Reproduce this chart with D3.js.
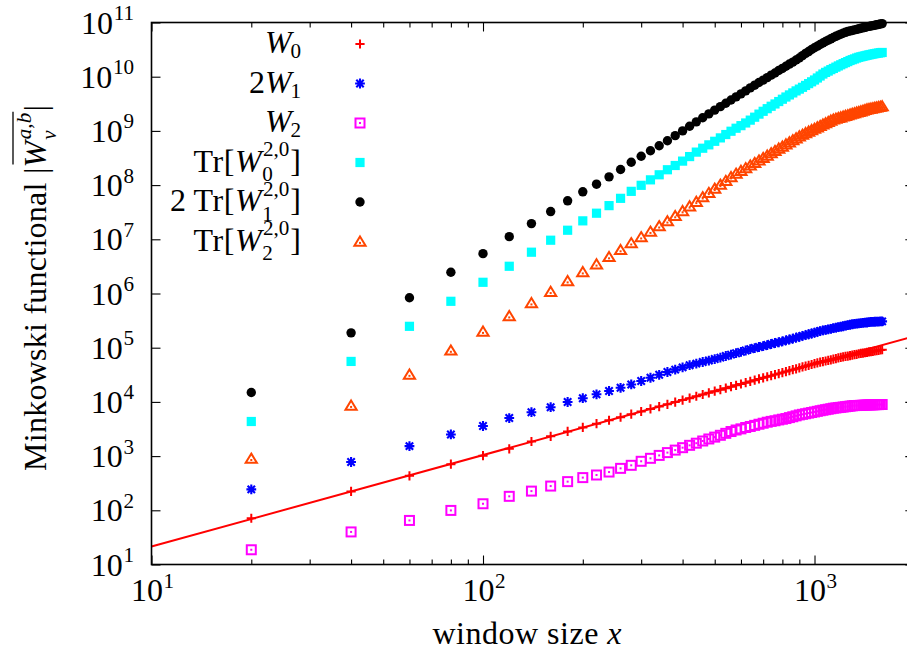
<!DOCTYPE html>
<html>
<head>
<meta charset="utf-8">
<script src="https://cdn.jsdelivr.net/npm/d3@7"></script>
<style>
  body { margin: 0; background: #fff; }
  svg { display: block; }
</style>
</head>
<body>
<svg id="chart" width="907" height="655"></svg>
<script>
// window sizes (x) shared by every series
const windowSize = [20, 40, 60, 80, 100, 120, 140, 160, 180, 200, 220, 240, 260, 280, 300, 320, 340, 360, 380, 400,
  420, 440, 460, 480, 500, 520, 540, 560, 580, 600, 620, 640, 660, 680, 700, 720, 740, 760, 780, 800,
  820, 840, 860, 880, 900, 920, 940, 960, 980, 1000, 1020, 1040, 1060, 1080, 1100, 1120, 1140, 1160, 1180, 1200,
  1220, 1240, 1260, 1280, 1300, 1320, 1340, 1360, 1380, 1400, 1420, 1440, 1460, 1480, 1500, 1520, 1540, 1560, 1580, 1600];

const valW0 = [71.4, 223, 432, 711, 1020, 1360, 1860, 2320, 2850, 3380, 3970, 4590, 5210, 5930,
  6650, 7410, 8200, 9040, 9930, 10800, 11700, 12700, 13700, 14700, 15800, 16800, 17900, 19100, 20200, 21400,
  22600, 23900, 25200, 26500, 27800, 29100, 30500, 31900, 33300, 34800, 36300, 37800, 39300, 40800, 42400,
  44100, 45600, 47300, 49000, 50700,
  52500, 54200, 55300, 56800, 58200, 59800, 61400, 62800, 64700, 66200, 67600, 68900, 70200, 71600, 73100,
  74500, 75500, 77300, 78500, 79600, 80700, 82000, 83400, 84500, 85900, 87100, 88300, 89300, 90800, 91600];

const val2W1 = [243, 778, 1530, 2510, 3590, 5040, 6460, 7980, 9950, 11700, 13800, 15900, 18200, 21000,
  24300, 27900, 31600, 35600, 39400, 43300, 47500, 50800, 54500, 57900, 61800, 65600, 70300, 74500, 79100, 83600,
  88700, 94200, 98600, 103000, 107000, 112000, 117000, 122000, 126000, 131000, 136000, 142000, 147000, 153000,
  159000, 165000, 171000, 177000, 183000, 189000,
  196000, 203000, 208000, 213000, 218000, 223000, 229000, 234000, 239000, 244000, 249000, 255000, 261000, 265000,
  271000, 274000, 278000, 281000, 284000, 287000, 290000, 292000, 296000, 299000, 300000, 301000, 303000, 303000,
  305000, 306000];

const valW2 = [18.7, 39.9, 65.0, 99.5, 132, 181, 226, 280, 338, 401, 448, 508, 594, 676,
  802, 910, 1030, 1160, 1290, 1430, 1580, 1730, 1900, 2070, 2240, 2420, 2630, 2840, 3030, 3180,
  3370, 3520, 3690, 3870, 4040, 4220, 4370, 4490, 4650, 4790, 4930, 5130, 5320, 5530, 5750,
  5900, 6050, 6210, 6370, 6530,
  6700, 6870, 7030, 7180, 7330, 7480, 7650, 7740, 7850, 7940, 8050, 8150, 8260, 8360, 8470,
  8550, 8570, 8610, 8650, 8690, 8730, 8770, 8810, 8830, 8830, 8870, 8910, 8910, 8950, 8950];

const valTrW0 = [4350, 55800, 2.48e5, 7.18e5, 1.61e6, 3.18e6, 5.78e6, 9.62e6, 1.47e7, 2.19e7, 3.03e7, 4.18e7,
  5.70e7, 7.67e7, 9.91e7, 1.25e8, 1.55e8, 1.92e8,
  2.30e8, 2.77e8, 3.36e8, 4.06e8, 4.79e8, 5.53e8, 6.43e8, 7.43e8, 8.57e8, 9.86e8, 1.12e9, 1.25e9, 1.40e9, 1.58e9,
  1.79e9, 2.04e9, 2.30e9, 2.57e9, 2.85e9, 3.14e9, 3.48e9, 3.84e9, 4.22e9, 4.61e9, 5.02e9, 5.47e9, 5.90e9, 6.37e9,
  6.90e9, 7.45e9, 8.05e9, 8.69e9,
  9.46e9, 1.03e10, 1.12e10, 1.20e10, 1.27e10, 1.35e10, 1.42e10, 1.50e10, 1.58e10, 1.66e10, 1.74e10, 1.82e10,
  1.90e10, 1.99e10, 2.06e10, 2.13e10, 2.21e10, 2.28e10, 2.33e10, 2.38e10, 2.43e10, 2.48e10, 2.53e10, 2.57e10,
  2.62e10, 2.66e10, 2.70e10, 2.73e10, 2.77e10, 2.80e10];

const val2TrW1 = [1.49e4, 1.88e5, 8.36e5, 2.47e6, 5.44e6, 1.12e7, 1.95e7, 3.25e7, 5.13e7, 7.52e7, 1.04e8, 1.42e8,
  1.94e8, 2.64e8, 3.40e8, 4.31e8, 5.32e8, 6.59e8,
  8.18e8, 1.00e9, 1.22e9, 1.47e9, 1.75e9, 2.06e9, 2.42e9, 2.80e9, 3.24e9, 3.71e9, 4.25e9, 4.83e9, 5.48e9, 6.21e9,
  6.97e9, 7.82e9, 8.65e9, 9.62e9, 1.07e10, 1.17e10, 1.30e10, 1.42e10, 1.56e10, 1.71e10, 1.86e10, 2.03e10, 2.21e10,
  2.45e10, 2.69e10, 2.91e10, 3.17e10, 3.42e10,
  3.66e10, 3.92e10, 4.18e10, 4.46e10, 4.73e10, 5.00e10, 5.28e10, 5.56e10, 5.82e10, 6.11e10, 6.34e10, 6.59e10,
  6.82e10, 6.97e10, 7.14e10, 7.30e10, 7.48e10, 7.65e10, 7.82e10, 7.98e10, 8.15e10, 8.34e10, 8.47e10, 8.61e10,
  8.77e10, 8.91e10, 9.06e10, 9.23e10, 9.38e10, 9.55e10];

const valTrW2 = [899, 8570, 32100, 89100, 1.99e5, 3.84e5, 6.67e5, 1.08e6, 1.70e6, 2.49e6, 3.47e6, 4.73e6,
  6.37e6, 8.51e6, 1.10e7, 1.39e7, 1.75e7, 2.16e7,
  2.70e7, 3.33e7, 4.07e7, 4.93e7, 6.00e7, 7.21e7, 8.61e7, 1.02e8, 1.20e8, 1.41e8, 1.63e8, 1.84e8, 2.06e8, 2.31e8,
  2.57e8, 2.86e8, 3.18e8, 3.51e8, 3.89e8, 4.29e8, 4.73e8, 5.16e8, 5.68e8, 6.18e8, 6.76e8, 7.33e8, 7.98e8, 8.55e8,
  9.14e8, 9.75e8, 1.04e9, 1.10e9,
  1.17e9, 1.24e9, 1.32e9, 1.39e9, 1.47e9, 1.56e9, 1.63e9, 1.69e9, 1.74e9, 1.79e9, 1.85e9, 1.90e9, 1.96e9, 2.02e9,
  2.08e9, 2.13e9, 2.20e9, 2.25e9, 2.31e9, 2.37e9, 2.44e9, 2.51e9, 2.55e9, 2.59e9, 2.64e9, 2.69e9, 2.72e9, 2.77e9,
  2.81e9, 2.86e9];

// power-law fit through W0, given by its two end points
const fitX = [10, 2000];
const fitY = [21.5, 1.63e5];

// axis ticks
const xMajorTicks = [10, 100, 1000];
const xMinorTicks = [20, 30, 40, 50, 60, 70, 80, 90, 200, 300, 400, 500, 600, 700, 800, 900, 2000];
const xTickExp = [1, 2, 3];
const yMajorTicks = [1e1, 1e2, 1e3, 1e4, 1e5, 1e6, 1e7, 1e8, 1e9, 1e10, 1e11];
const yTickExp = [1, 2, 3, 4, 5, 6, 7, 8, 9, 10, 11];

const FS = 32;               // base font size
const FONT = '"Liberation Serif", "DejaVu Serif", serif';
const svg = d3.select('#chart');

const plot = { left: 151.5, right: 914.3, top: 22.5, bottom: 564.5 };
const x = d3.scaleLog().domain([10, 2000]).range([plot.left, plot.right]);
const y = d3.scaleLog().domain([10, 1e11]).range([plot.bottom, plot.top]);

// --- rich text: one <text> element, one <tspan> per piece (italics, sub/superscripts) ---
function richText(parent, parts, fs) {
  const g = parent.append('g');
  const text = g.append('text')
    .attr('font-family', FONT).attr('font-size', fs).attr('fill', '#000')
    .style('white-space', 'pre');
  let cx = 0, supStart = 0;
  const boxes = [];
  parts.forEach(p => {
    const lvl = p.lvl || 'base';
    const size = lvl === 'base' ? fs : fs * 0.66;
    let dy = 0;
    if (lvl === 'sup') dy = -(p.low ? 0.42 : 0.48) * fs;
    if (lvl === 'sub') dy = (p.under ? 0.3 : 0.16) * fs;
    const x0 = p.under ? supStart + (p.dx || 0) * fs : cx + (p.dx || 0) * fs;
    const t = text.append('tspan')
      .attr('x', x0).attr('y', dy)
      .attr('font-size', size)
      .attr('font-style', p.it ? 'italic' : 'normal')
      .text(p.t);
    if (p.ls) t.attr('letter-spacing', p.ls);
    const w = t.node().getComputedTextLength();
    boxes.push({ x0, w, lvl });
    if (p.under) cx = Math.max(cx, x0 + w);
    else { if (lvl === 'sup') supStart = x0; cx = x0 + w; }
  });
  return { g, width: cx, boxes };
}

function powLabel(parent, exp) {
  return richText(parent, [{ t: '10' }, { t: String(exp), lvl: 'sup', low: true, dx: 0.02 }], FS);
}

// --- series ---
const series = [
  { key: 'W0', values: valW0, color: '#ff0000', shape: 'plus',
    label: [{ t: 'W', it: true }, { t: '0', lvl: 'sub', dx: -0.04 }] },
  { key: '2W1', values: val2W1, color: '#0000ff', shape: 'star',
    label: [{ t: '2' }, { t: 'W', it: true }, { t: '1', lvl: 'sub', dx: -0.04 }] },
  { key: 'W2', values: valW2, color: '#ff00ff', shape: 'boxdot',
    label: [{ t: 'W', it: true }, { t: '2', lvl: 'sub', dx: -0.04 }] },
  { key: 'TrW0', values: valTrW0, color: '#00ffff', shape: 'square',
    label: [{ t: 'Tr[', ls: 0.6 }, { t: 'W', it: true }, { t: '2,0', lvl: 'sup', dx: 0.04 }, { t: '0', lvl: 'sub', under: true, dx: -0.02 }, { t: ']', dx: 0.03 }] },
  { key: '2TrW1', values: val2TrW1, color: '#000000', shape: 'circle',
    label: [{ t: '2\u2009Tr[', ls: 0.6 }, { t: 'W', it: true }, { t: '2,0', lvl: 'sup', dx: 0.04 }, { t: '1', lvl: 'sub', under: true, dx: -0.02 }, { t: ']', dx: 0.03 }] },
  { key: 'TrW2', values: valTrW2, color: '#ff4500', shape: 'tridot',
    label: [{ t: 'Tr[', ls: 0.6 }, { t: 'W', it: true }, { t: '2,0', lvl: 'sup', dx: 0.04 }, { t: '2', lvl: 'sub', under: true, dx: -0.02 }, { t: ']', dx: 0.03 }] }
];

function drawMarker(sel, shape, color) {
  switch (shape) {
    case 'plus':
      sel.append('path').attr('d', 'M-4.6,0H4.6M0,-4.6V4.6')
        .attr('stroke', color).attr('stroke-width', 2).attr('fill', 'none');
      break;
    case 'star':
      sel.append('path').attr('d', 'M-4.9,0H4.9M0,-4.9V4.9M-3.7,-3.7L3.7,3.7M-3.7,3.7L3.7,-3.7')
        .attr('stroke', color).attr('stroke-width', 2.1).attr('fill', 'none');
      break;
    case 'boxdot':
      sel.append('rect').attr('x', -4.5).attr('y', -4.5).attr('width', 9).attr('height', 9)
        .attr('stroke', color).attr('stroke-width', 2).attr('fill', 'none');
      sel.append('rect').attr('x', -1).attr('y', -1).attr('width', 2).attr('height', 2).attr('fill', color);
      break;
    case 'square':
      sel.append('rect').attr('x', -4.6).attr('y', -4.6).attr('width', 9.2).attr('height', 9.2).attr('fill', color);
      break;
    case 'circle':
      sel.append('circle').attr('r', 4.7).attr('fill', color);
      break;
    case 'tridot':
      sel.append('path').attr('d', 'M0,-5L5.6,4.2H-5.6Z')
        .attr('stroke', color).attr('stroke-width', 2).attr('fill', 'none');
      sel.append('rect').attr('x', -1).attr('y', 0.4).attr('width', 2).attr('height', 2).attr('fill', color);
      break;
  }
}

const pointsLayer = svg.append('g');
series.forEach(s => {
  const g = pointsLayer.append('g');
  const pts = g.selectAll('g').data(windowSize.map((w, i) => ({ x: w, y: s.values[i] })))
    .join('g').attr('transform', d => `translate(${x(d.x)},${y(d.y)})`);
  drawMarker(pts, s.shape, s.color);
});

// fit line
svg.append('path')
  .datum(fitX.map((v, i) => [v, fitY[i]]))
  .attr('d', d3.line().x(d => x(d[0])).y(d => y(d[1])))
  .attr('stroke', '#ff0000').attr('stroke-width', 2).attr('fill', 'none');

// --- frame and ticks ---
const axes = svg.append('g');
function tickAxis(axisFn, scale, values, size, transform) {
  const a = axisFn(scale).tickValues(values).tickSizeInner(-size).tickSizeOuter(0).tickFormat('');
  const g = axes.append('g').attr('transform', transform).call(a);
  g.select('.domain').remove();
  g.selectAll('text').remove();
  g.selectAll('line').attr('stroke', '#000').attr('stroke-width', 1.1);
}
tickAxis(d3.axisBottom, x, xMajorTicks, 9, `translate(0,${plot.bottom})`);
tickAxis(d3.axisBottom, x, xMinorTicks, 5, `translate(0,${plot.bottom})`);
tickAxis(d3.axisTop, x, xMajorTicks, 9, `translate(0,${plot.top})`);
tickAxis(d3.axisTop, x, xMinorTicks, 5, `translate(0,${plot.top})`);
tickAxis(d3.axisLeft, y, yMajorTicks, 9, `translate(${plot.left},0)`);
tickAxis(d3.axisRight, y, yMajorTicks, 9, `translate(${plot.right},0)`);

axes.append('rect')
  .attr('x', plot.left).attr('y', plot.top)
  .attr('width', plot.right - plot.left).attr('height', plot.bottom - plot.top)
  .attr('fill', 'none').attr('stroke', '#000').attr('stroke-width', 1.6);

// tick labels
yMajorTicks.forEach((v, i) => {
  const lab = powLabel(svg, yTickExp[i]);
  lab.g.attr('transform', `translate(${134 - lab.width},${y(v) + 11})`);
});
xMajorTicks.forEach((v, i) => {
  const lab = powLabel(svg, xTickExp[i]);
  lab.g.attr('transform', `translate(${x(v) - lab.width / 2 + 1},${601})`);
});

// axis titles
const xt = richText(svg, [{ t: 'window size ', ls: 0.5 }, { t: 'x', it: true }], FS);
xt.g.attr('transform', `translate(${527 - xt.width / 2},644)`);

const yt = richText(svg, [
  { t: 'Minkowski functional |', ls: 0.25 },
  { t: 'W', it: true },
  { t: 'a,b', lvl: 'sup', it: true, dx: 0.05 },
  { t: '\u03bd', lvl: 'sub', it: true, under: true, dx: -0.02 },
  { t: '|', dx: 0.04 }
], FS);
{
  const wBox = yt.boxes[1], supBox = yt.boxes[2];
  yt.g.append('line')
    .attr('x1', wBox.x0 + 3).attr('x2', supBox.x0 + supBox.w + 1)
    .attr('y1', -33).attr('y2', -33)
    .attr('stroke', '#000').attr('stroke-width', 1.3);
}
yt.g.attr('transform', `translate(46,${288 + yt.width / 2}) rotate(-90)`);

// --- legend ---
const legend = svg.append('g');
series.forEach((s, i) => {
  const rowY = 44 + i * 39.5;
  const lab = richText(legend, s.label, FS);
  lab.g.attr('transform', `translate(${301 - lab.width},${rowY + 9})`);
  const m = legend.append('g').attr('transform', `translate(360,${rowY})`);
  drawMarker(m, s.shape, s.color);
});
</script>
</body>
</html>
